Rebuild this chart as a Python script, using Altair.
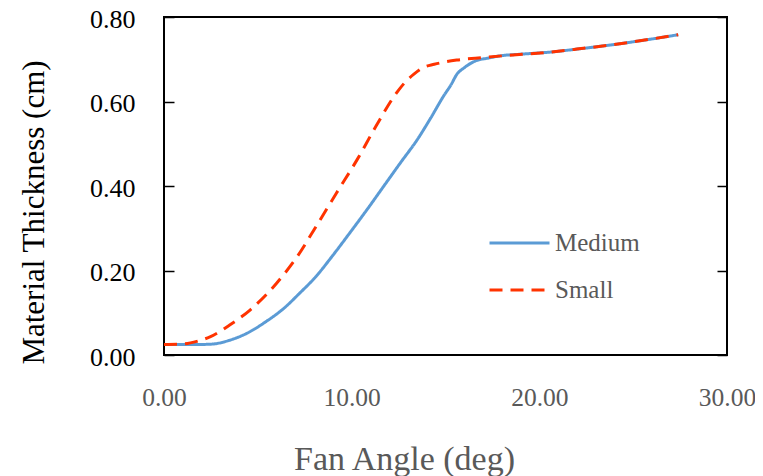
import altair as alt
import pandas as pd

# ---- data ----
medium_angle = [0.0, 1.0, 2.0, 2.6, 3.5, 4.4, 5.4, 6.4, 7.2, 8.1, 9.0, 9.9, 10.8, 11.7,
                12.6, 13.5, 14.2, 14.9, 15.3, 15.6, 16.0, 16.6, 17.3, 17.9, 19.0, 20.6,
                22.0, 24.0, 26.0, 27.4]
medium_thick = [0.025, 0.025, 0.025, 0.026, 0.035, 0.051, 0.078, 0.111, 0.145, 0.186,
                0.236, 0.289, 0.343, 0.399, 0.455, 0.510, 0.560, 0.613, 0.640, 0.664,
                0.680, 0.696, 0.703, 0.708, 0.712, 0.717, 0.724, 0.735, 0.748, 0.758]

small_angle = [0.0, 1.0, 1.8, 2.45, 3.5, 4.6, 6.0, 7.1, 8.1, 9.2, 10.3, 11.3, 12.4, 12.9,
               13.3, 13.8, 14.4, 15.6, 17.0, 18.0, 20.6, 22.0, 24.0, 26.0, 27.4]
small_thick = [0.025, 0.026, 0.033, 0.043, 0.071, 0.107, 0.170, 0.233, 0.304, 0.384,
               0.463, 0.542, 0.621, 0.648, 0.664, 0.680, 0.688, 0.698, 0.704, 0.708,
               0.717, 0.724, 0.735, 0.748, 0.758]

series_names = ["Medium", "Small"]
series_colors = ["#5B9BD5", "#FF3300"]
x_ticks = [0, 10, 20, 30]
y_ticks = [0.0, 0.2, 0.4, 0.6, 0.8]

rows = [{"series": "Medium", "angle": a, "thick": t} for a, t in zip(medium_angle, medium_thick)]
rows += [{"series": "Small", "angle": a, "thick": t} for a, t in zip(small_angle, small_thick)]
df = pd.DataFrame(rows)

W, H = 563, 338
FONT = "Liberation Serif"
GRAY = "#595959"

xs = alt.Scale(domain=[0, 30], nice=False)
ys = alt.Scale(domain=[0, 0.8], nice=False)

legend_cfg = dict(title=None, orient="none", legendX=324, legendY=206,
                  symbolType="stroke", symbolSize=3600, symbolStrokeWidth=3,
                  labelFont=FONT, labelFontSize=25, labelColor=GRAY, labelOffset=4,
                  clipHeight=40, rowPadding=7)

base = alt.Chart(df)

lines = base.mark_line(strokeWidth=3, interpolate="monotone").encode(
    x=alt.X("angle:Q", scale=xs,
            axis=alt.Axis(values=x_ticks, format=".2f", title="Fan Angle (deg)",
                          ticks=False, tickSize=0, domain=False, grid=False,
                          labelFlush=False,
                          labelFont=FONT, labelFontSize=25.5, labelColor=GRAY,
                          labelPadding=30,
                          titleFont=FONT, titleFontSize=34, titleColor=GRAY,
                          titleFontWeight="normal", titleX=240, titleY=114,
                          titleBaseline="alphabetic")),
    y=alt.Y("thick:Q", scale=ys,
            axis=alt.Axis(values=y_ticks, format=".2f", title="Material Thickness (cm)",
                          orient="left", ticks=False, tickSize=0, domain=False, grid=False,
                          labelFont=FONT, labelFontSize=26, labelColor="black",
                          labelPadding=29, labelOffset=2,
                          titleFont=FONT, titleFontSize=31, titleColor="black",
                          titleFontWeight="normal", titleX=-121, titleY=195,
                          titleAngle=-90, titleBaseline="alphabetic", titleAlign="center")),
    color=alt.Color("series:N",
                    scale=alt.Scale(domain=series_names, range=series_colors),
                    legend=alt.Legend(**legend_cfg)),
    strokeDash=alt.StrokeDash("series:N",
                              scale=alt.Scale(domain=series_names, range=[[1, 0], [13, 8]]),
                              legend=alt.Legend(**legend_cfg)),
)

# inward ticks on the left edge
ticks_left = base.mark_line(opacity=0).encode(
    x=alt.X("angle:Q", scale=xs, axis=None),
    y=alt.Y("thick:Q", scale=ys,
            axis=alt.Axis(values=y_ticks, orient="right", offset=-W, labels=False,
                          domain=False, grid=False, ticks=True, tickSize=10,
                          tickColor="black", tickWidth=1.5, title=None)),
)

# inward ticks on the right edge
ticks_right = base.mark_line(opacity=0).encode(
    x=alt.X("angle:Q", scale=xs, axis=None),
    y=alt.Y("thick:Q", scale=ys,
            axis=alt.Axis(values=y_ticks, orient="left", offset=-W, labels=False,
                          domain=False, grid=False, ticks=True, tickSize=10,
                          tickColor="black", tickWidth=1.5, title=None)),
)

chart = alt.layer(lines, ticks_left, ticks_right).resolve_axis(
    x="independent", y="independent"
).properties(
    width=W, height=H,
    autosize=alt.AutoSizeParams(type="none"),
    padding={"left": 156, "top": 9, "right": 28, "bottom": 121},
).configure_view(stroke="black", strokeWidth=2)

chart.save("out.html", embed_options={"renderer": "svg", "actions": False})
